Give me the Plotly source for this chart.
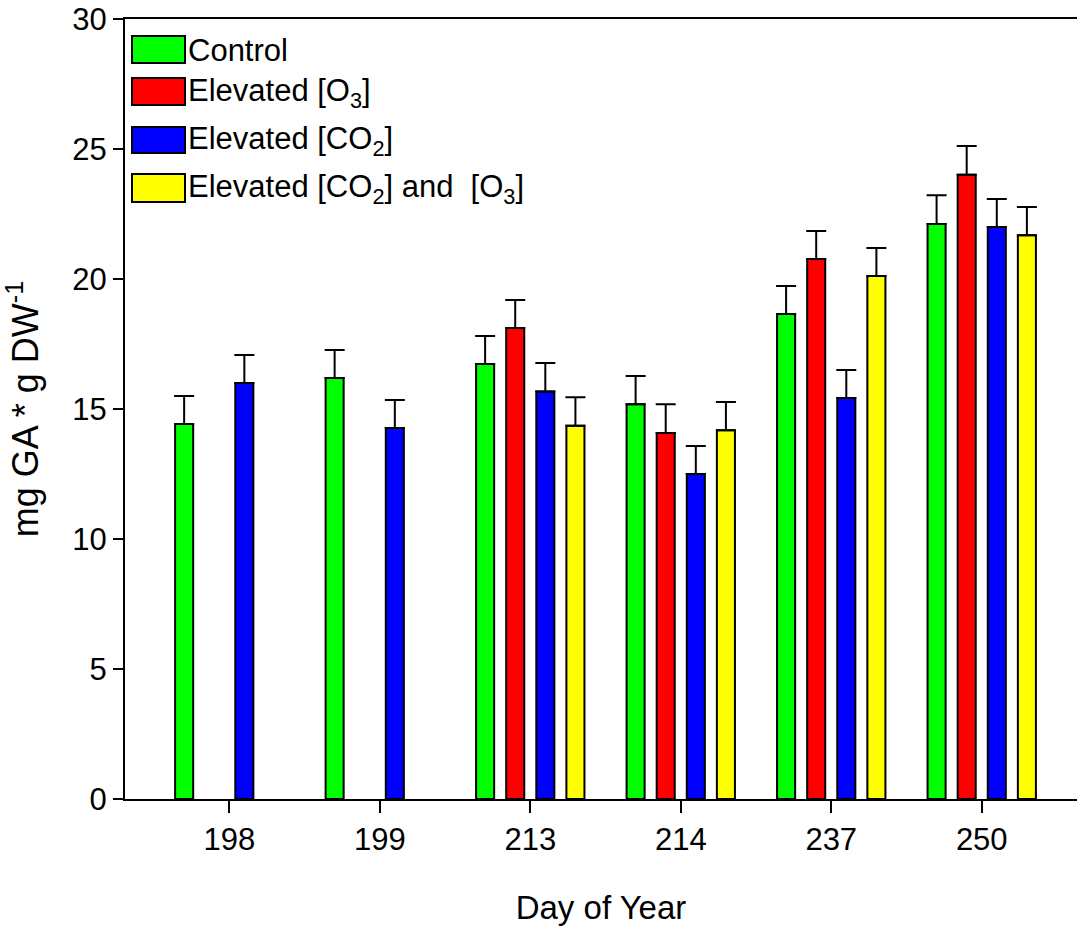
import plotly.graph_objects as go

days = ["198", "199", "213", "214", "237", "250"]
series_names = ["Control", "Elevated [O<sub>3</sub>]", "Elevated [CO<sub>2</sub>]",
                "Elevated [CO<sub>2</sub>] and  [O<sub>3</sub>]"]
colors = ["#00FF00", "#FF0000", "#0000FF", "#FFFF00"]

control = [14.42, 16.19, 16.73, 15.18, 18.65, 22.12]
ozone = [None, None, 18.12, 14.08, 20.77, 24.01]
co2 = [16.0, 14.27, 15.67, 12.5, 15.42, 22.0]
both = [None, None, 14.36, 14.18, 20.12, 21.68]

control_err = [1.08, 1.08, 1.08, 1.09, 1.08, 1.10]
ozone_err = [0, 0, 1.07, 1.10, 1.08, 1.11]
co2_err = [1.08, 1.08, 1.10, 1.08, 1.08, 1.08]
both_err = [0, 0, 1.09, 1.09, 1.07, 1.09]

values = [control, ozone, co2, both]
errors = [control_err, ozone_err, co2_err, both_err]

FONT = "Liberation Sans, Arial, sans-serif"
W, H = 1077, 930
L, R, T, B = 125, 0, 19, 131

xpos = list(range(len(days)))

fig = go.Figure()
for name, vals, errs, col in zip(series_names, values, errors, colors):
    fig.add_trace(go.Bar(
        x=xpos, y=vals, name=name,
        marker=dict(color=col, line=dict(color="black", width=2)),
        error_y=dict(type="data", symmetric=False, array=errs,
                     arrayminus=[0] * len(errs), color="black",
                     thickness=2, width=10),
        showlegend=False,
    ))

# manual legend (large swatches like the reference)
pw, ph = W - L - R, H - T - B
def px(x):
    return (x - L) / pw
def py(y):
    return 1 - (y - T) / ph

shapes = []
annotations = []
rows = [(36, 63), (78, 105), (127, 153), (174, 202)]
for (y0, y1), col, name in zip(rows, colors, series_names):
    shapes.append(dict(type="rect", xref="paper", yref="paper",
                       x0=px(132), x1=px(185), y0=py(y1), y1=py(y0),
                       fillcolor=col, line=dict(color="black", width=2)))
    annotations.append(dict(xref="paper", yref="paper", x=px(186), y=py((y0 + y1) / 2 + 1),
                            xanchor="left", yanchor="middle", showarrow=False,
                            text=name, font=dict(family=FONT, size=31, color="black")))

fig.update_layout(
    width=W, height=H,
    margin=dict(l=L, r=R, t=T, b=B),
    paper_bgcolor="white", plot_bgcolor="white",
    barmode="group", bargap=0.2, bargroupgap=0.4,
    font=dict(family=FONT, size=31, color="black"),
    shapes=shapes, annotations=annotations,
    xaxis=dict(
        tickmode="array", tickvals=xpos, ticktext=days,
        range=[-0.693, 5.633],
        showline=True, linecolor="black", linewidth=2, mirror=True,
        ticks="outside", ticklen=12, tickwidth=2, tickcolor="black",
        showgrid=False, zeroline=False,
        tickfont=dict(family=FONT, size=31),
        title=dict(text="Day of Year", font=dict(family=FONT, size=33), standoff=40),
    ),
    yaxis=dict(
        range=[0, 30], tickmode="array", tickvals=[0, 5, 10, 15, 20, 25, 30],
        showline=True, linecolor="black", linewidth=2,
        ticks="outside", ticklen=10, tickwidth=2, tickcolor="black",
        showgrid=False, zeroline=False,
        tickfont=dict(family=FONT, size=31),
        title=dict(text="mg GA * g DW<sup>-1</sup>", font=dict(family=FONT, size=36), standoff=23),
    ),
)

fig.write_html("out.html")
